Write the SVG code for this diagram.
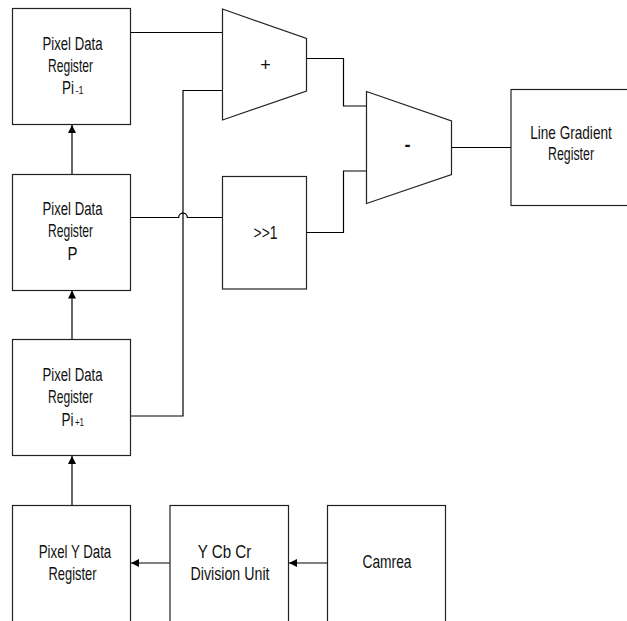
<svg xmlns="http://www.w3.org/2000/svg" width="627" height="621" viewBox="0 0 627 621">
<style>
.box{fill:#fff;stroke:#222;stroke-width:1.2}
.ln{fill:none;stroke:#000;stroke-width:1.2}
text{font-family:"Liberation Sans",Arial,sans-serif;font-size:18px;fill:#111;text-anchor:middle}
text.st{text-anchor:start}
.sub{font-size:11px}
</style>
<defs>
<marker id="ah" viewBox="0 0 10 10" refX="10" refY="5" markerWidth="8" markerHeight="8" markerUnits="userSpaceOnUse" orient="auto">
<path d="M0,0 L10,5 L0,10 Z" fill="#000"/>
</marker>
</defs>
<rect width="627" height="621" fill="#fff"/>
<g id="connectors">
<line class="ln" x1="72" y1="174" x2="72" y2="125" marker-end="url(#ah)"/>
<line class="ln" x1="72" y1="339" x2="72" y2="290.5" marker-end="url(#ah)"/>
<line class="ln" x1="72" y1="505" x2="72" y2="456" marker-end="url(#ah)"/>
<line class="ln" x1="327" y1="563" x2="289" y2="563" marker-end="url(#ah)"/>
<line class="ln" x1="170" y1="563" x2="131" y2="563" marker-end="url(#ah)"/>
<polyline class="ln" points="130.5,32.5 222.5,32.5"/>
<polyline class="ln" points="130.5,416 183,416 183,90.5 222.5,90.5"/>
<path class="ln" d="M130.5,217.5 H178.7 A4.3,4.3 0 0 1 187.3,217.5 H222.5"/>
<polyline class="ln" points="306.5,58.5 343.5,58.5 343.5,106 366.5,106"/>
<polyline class="ln" points="306.5,232.5 343.5,232.5 343.5,171 366.5,171"/>
<polyline class="ln" points="451.5,147.5 511,147.5"/>
</g>
<g id="reg-pi-1">
<rect class="box" x="12.5" y="8.5" width="118" height="116"/>
<text transform="translate(72.5,50) scale(0.732,1)">Pixel Data</text>
<text transform="translate(70.5,72) scale(0.672,1)">Register</text>
<text class="st" transform="translate(62,94) scale(0.75,1)">Pi</text>
<text class="st sub" transform="translate(75.5,94) scale(0.82,1)">-1</text>
</g>
<g id="reg-p">
<rect class="box" x="12.5" y="174.5" width="118" height="116"/>
<text transform="translate(72.5,215) scale(0.732,1)">Pixel Data</text>
<text transform="translate(70.5,237) scale(0.672,1)">Register</text>
<text transform="translate(72.5,259.5) scale(0.83,1)">P</text>
</g>
<g id="reg-pi+1">
<rect class="box" x="12.5" y="339.5" width="118" height="116"/>
<text transform="translate(72.5,381) scale(0.732,1)">Pixel Data</text>
<text transform="translate(70.5,403) scale(0.672,1)">Register</text>
<text class="st" transform="translate(61.5,426) scale(0.75,1)">Pi</text>
<text class="st sub" transform="translate(75,426) scale(0.72,1)">+1</text>
</g>
<g id="reg-y">
<rect class="box" x="12.5" y="505.5" width="118" height="120"/>
<text transform="translate(75,558) scale(0.737,1)">Pixel Y Data</text>
<text transform="translate(72.5,580) scale(0.716,1)">Register</text>
</g>
<g id="ycbcr">
<rect class="box" x="170" y="505.5" width="118.5" height="120"/>
<text transform="translate(224.5,558) scale(0.844,1)">Y Cb Cr</text>
<text transform="translate(230,580) scale(0.79,1)">Division Unit</text>
</g>
<g id="camrea">
<rect class="box" x="327.5" y="505.5" width="118" height="120"/>
<text transform="translate(387,567.5) scale(0.766,1)">Camrea</text>
</g>
<g id="adder">
<polygon class="box" points="222.5,9 306.5,38.5 306.5,91 222.5,120"/>
<text x="265.5" y="70.5" font-size="16">+</text>
</g>
<g id="shift">
<rect class="box" x="222.5" y="176.5" width="84" height="112.5"/>
<text transform="translate(265.5,238.5) scale(0.77,1)">&gt;&gt;1</text>
</g>
<g id="subtractor">
<polygon class="box" points="366.5,91.5 451.5,121 451.5,174.5 366.5,203.5"/>
<text x="407.5" y="151" font-size="20" font-weight="bold">-</text>
</g>
<g id="line-gradient">
<rect class="box" x="511" y="89.5" width="130" height="116"/>
<text font-size="17" transform="translate(571,138.5) scale(0.755,1)">Line Gradient</text>
<text transform="translate(571,160) scale(0.687,1)">Register</text>
</g>
</svg>
